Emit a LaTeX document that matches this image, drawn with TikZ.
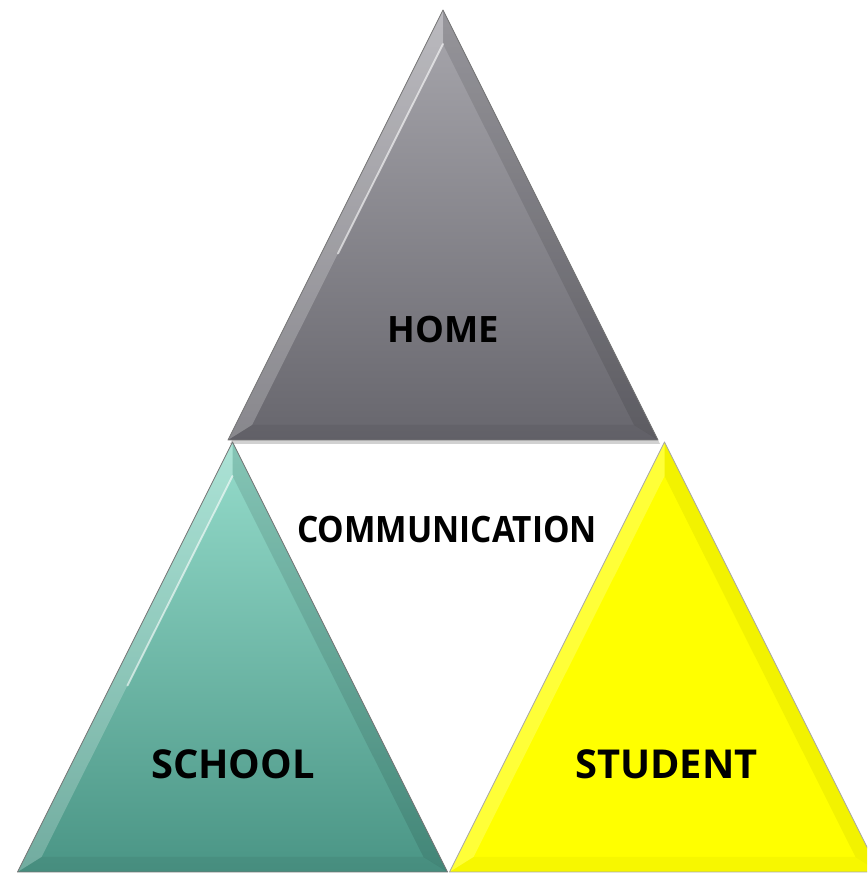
\documentclass[tikz,border=0pt]{standalone}
\usepackage{fontspec}
\setmainfont{Open Sans}
\usetikzlibrary{positioning,calc}
\definecolor{hometop}{HTML}{A8A7AD}
\definecolor{homebot}{HTML}{67666D}
\definecolor{schooltop}{HTML}{95DCCB}
\definecolor{schoolbot}{HTML}{4A9585}
\definecolor{studentyel}{HTML}{FFFF00}

\begin{document}
\begin{tikzpicture}[x=0.03cm,y=0.03cm,
  facelight/.style={fill=white,opacity=.22},
  facedark/.style={fill=black,opacity=.10},
  facebase/.style={fill=black,opacity=.05},
  shine/.style={white,opacity=.6,line width=1.6pt,line cap=round},
  edge/.style={draw=black!55,line width=.7pt,line join=round},
  dropshadow/.style={fill=black,opacity=.18},
  wordtext/.style={font=\fontsize{30}{34}\selectfont\bfseries,text=black},
  bigword/.style={wordtext,font=\fontsize{34}{38}\selectfont\bfseries}]
\useasboundingbox (0,0) rectangle (867,874);
\clip (0,0) rectangle (867,874);

% home
\begin{scope}[shift={(443,434)}]
\coordinate (homeA) at (0,430);
\coordinate (homeL) at (-215,0);
\coordinate (homeR) at (215,0);
\coordinate (homeIA) at (0,396);
\coordinate (homeIL) at (-191,15);
\coordinate (homeIR) at (191,15);
\fill [dropshadow] ([shift={(2,-4)}]homeA) -- ([shift={(2,-4)}]homeL) -- ([shift={(2,-4)}]homeR) -- cycle;
\shade [top color=hometop,bottom color=homebot] (homeA) -- (homeL) -- (homeR) -- cycle;
\fill [facelight] (homeA) -- (homeL) -- (homeIL) -- (homeIA) -- cycle;
\fill [facedark] (homeA) -- (homeR) -- (homeIR) -- (homeIA) -- cycle;
\fill [facebase] (homeL) -- (homeR) -- (homeIR) -- (homeIL) -- cycle;
\draw [shine] (homeIA) -- ($(homeIA)!.55!(homeIL)$);
\draw [edge] (homeA) -- (homeL) -- (homeR) -- cycle;
\node [wordtext,font=\fontsize{31}{34}\selectfont\bfseries] (home) at (0,110) {HOME};
\end{scope}

% school
\begin{scope}[shift={(232.5,2)}]
\coordinate (schoolA) at (0,430);
\coordinate (schoolL) at (-215,0);
\coordinate (schoolR) at (215,0);
\coordinate (schoolIA) at (0,396);
\coordinate (schoolIL) at (-191,15);
\coordinate (schoolIR) at (191,15);
\shade [top color=schooltop,bottom color=schoolbot] (schoolA) -- (schoolL) -- (schoolR) -- cycle;
\fill [facelight] (schoolA) -- (schoolL) -- (schoolIL) -- (schoolIA) -- cycle;
\fill [facedark] (schoolA) -- (schoolR) -- (schoolIR) -- (schoolIA) -- cycle;
\fill [facebase] (schoolL) -- (schoolR) -- (schoolIR) -- (schoolIL) -- cycle;
\draw [shine] (schoolIA) -- ($(schoolIA)!.55!(schoolIL)$);
\draw [edge] (schoolA) -- (schoolL) -- (schoolR) -- cycle;
\node [bigword] (school) at (0.5,108) {SCHOOL};
\end{scope}

% student
\begin{scope}[shift={(664.5,2)}]
\coordinate (studentA) at (0,430);
\coordinate (studentL) at (-215,0);
\coordinate (studentR) at (215,0);
\coordinate (studentIA) at (0,396);
\coordinate (studentIL) at (-191,15);
\coordinate (studentIR) at (191,15);
\fill [studentyel] (studentA) -- (studentL) -- (studentR) -- cycle;
\fill [facelight] (studentA) -- (studentL) -- (studentIL) -- (studentIA) -- cycle;
\fill [facedark,opacity=.05] (studentA) -- (studentR) -- (studentIR) -- (studentIA) -- cycle;
\fill [facebase,opacity=.03] (studentL) -- (studentR) -- (studentIR) -- (studentIL) -- cycle;
\draw [edge,draw=black!35] (studentA) -- (studentL) -- (studentR) -- cycle;
\node [bigword] (student) at (2,108) {STUDENT};
\end{scope}

% middle word
\node [wordtext,font=\fontsize{31}{34}\selectfont\bfseries,xscale=.92,transform shape] (communication) at (447,344) {COMMUNICATION};
\end{tikzpicture}
\end{document}
